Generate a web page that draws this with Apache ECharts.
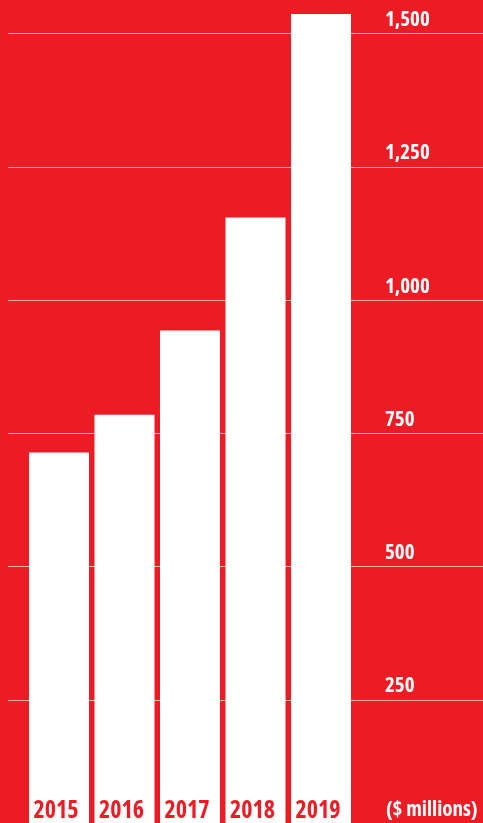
<!DOCTYPE html>
<html>
<head>
<meta charset="utf-8">
<script src="https://cdn.jsdelivr.net/npm/echarts@6/dist/echarts.min.js"></script>
<style>
    html, body {
        margin: 0;
        padding: 0;
        background: #ed1c24;
    }
    #chart {
        width: 483px;
        height: 823px;
    }
</style>
</head>
<body>
<div id="chart"></div>
<script>
// data
const years = ['2015', '2016', '2017', '2018', '2019'];
const values = [714, 785, 943, 1155, 1537];
const yTicks = [0, 250, 500, 750, 1000, 1250, 1500];
const unitLabel = '($ millions)';

const RED = '#ed1c24';
const FONT = "'Open Sans', 'Roboto Condensed', sans-serif";

const chart = echarts.init(document.getElementById('chart'));

// plot area runs a little past the bottom edge of the picture
const gridTop = 33.6;
const gridBottom = -10.2;

chart.setOption({
    backgroundColor: RED,
    animation: false,
    title: {
        text: unitLabel,
        left: 386,
        top: 800,
        padding: 0,
        textStyle: {
            color: '#fff',
            fontFamily: FONT,
            fontWeight: 'bold condensed',
            fontSize: 21,
        },
    },
    grid: [
        // wide grid: only for the gridlines and the value labels
        { left: 8, right: 0, top: gridTop, bottom: gridBottom, outerBoundsMode: 'none' },
        // bars
        { left: 26.25, right: 129.25, top: gridTop, bottom: gridBottom, outerBoundsMode: 'none' },
    ],
    xAxis: [
        { gridIndex: 0, type: 'value', show: false },
        {
            gridIndex: 1,
            type: 'category',
            data: years,
            axisLine: { show: false },
            axisTick: { show: false },
            axisLabel: { show: false },
        },
    ],
    yAxis: [
        {
            gridIndex: 0,
            type: 'value',
            position: 'right',
            min: yTicks[0],
            max: yTicks[yTicks.length - 1],
            interval: 250,
            axisLine: { show: false },
            axisTick: { show: false },
            splitLine: {
                lineStyle: { color: 'rgba(255,255,255,0.65)', width: 1 },
            },
            axisLabel: {
                inside: true,
                margin: 98,
                align: 'left',
                verticalAlign: 'bottom',
                padding: [0, 0, 3, 0],
                color: '#fff',
                fontFamily: FONT,
                fontWeight: 'bold condensed',
                fontSize: 21,
                formatter: (v) => (v === 0 ? '' : v.toLocaleString('en-US')),
            },
        },
        {
            gridIndex: 1,
            type: 'value',
            min: yTicks[0],
            max: yTicks[yTicks.length - 1],
            interval: 250,
            show: false,
        },
    ],
    series: [
        {
            type: 'bar',
            xAxisIndex: 1,
            yAxisIndex: 1,
            data: values,
            barWidth: 60,
            clip: false,
            itemStyle: { color: '#fff' },
            label: {
                show: true,
                position: 'insideBottom',
                distance: 10,
                offset: [-3, 0],
                formatter: '{b}',
                color: RED,
                fontFamily: FONT,
                fontWeight: 'bold condensed',
                fontSize: 24,
            },
        },
    ],
});
</script>
</body>
</html>
